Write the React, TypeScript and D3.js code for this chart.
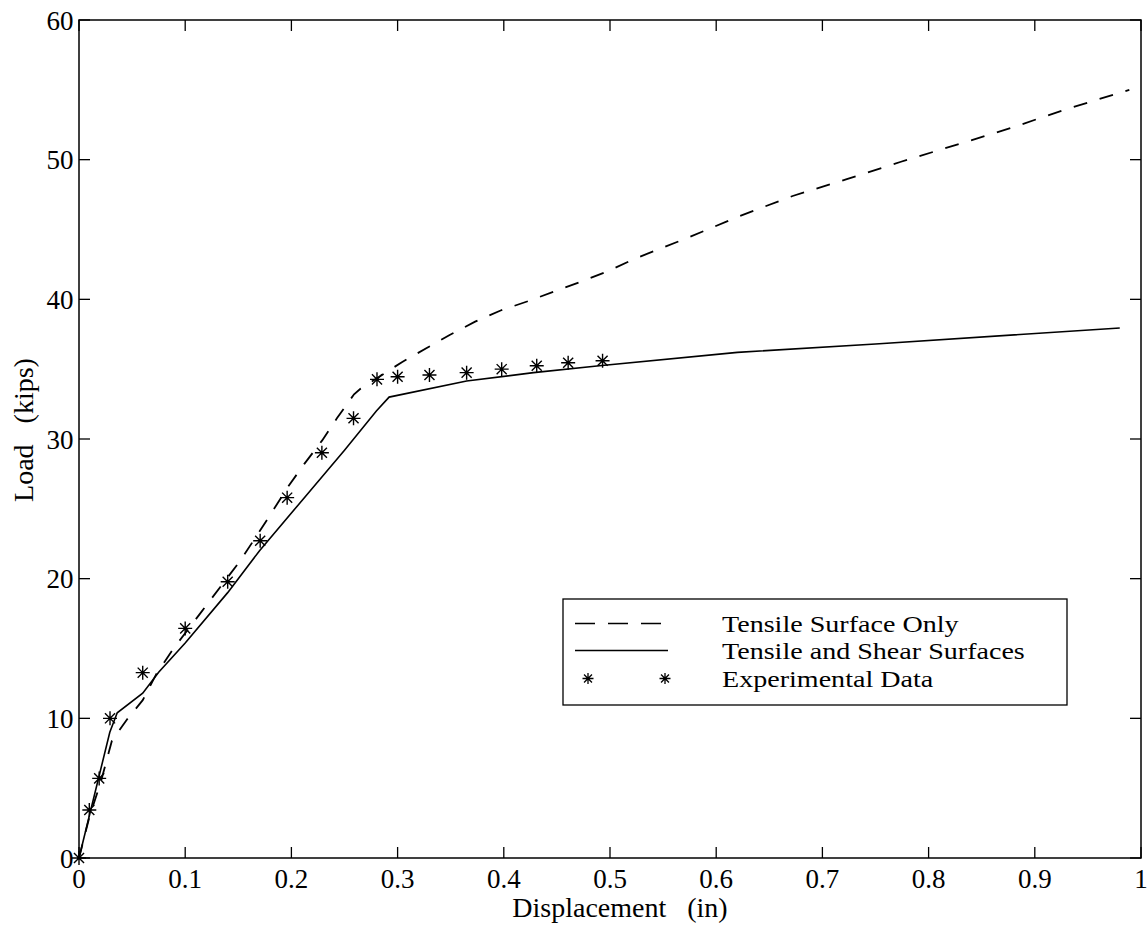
import React from "react";
import * as d3 from "d3";

// ---- Data ----
const tensileDisp = [0, 0.01, 0.02, 0.031, 0.045, 0.06, 0.073, 0.089, 0.114, 0.152, 0.177, 0.197, 0.212, 0.229, 0.243, 0.259, 0.265, 0.304, 0.327, 0.349, 0.373, 0.397, 0.424, 0.449, 0.474, 0.499, 0.523, 0.573, 0.622, 0.672, 0.723, 0.774, 0.826, 0.878, 0.929, 0.989];
const tensileLoad = [0, 3.0, 5.3, 8.4, 9.9, 11.3, 13.2, 15.0, 17.5, 21.3, 24.2, 26.6, 28.2, 29.9, 31.5, 33.2, 33.6, 35.5, 36.5, 37.45, 38.4, 39.2, 39.9, 40.6, 41.3, 42.05, 42.9, 44.4, 45.96, 47.4, 48.6, 49.85, 51.06, 52.28, 53.6, 55.0];

const shearDisp = [0, 0.029, 0.036, 0.06, 0.075, 0.1, 0.14, 0.17, 0.21, 0.25, 0.28, 0.292, 0.365, 0.428, 0.49, 0.62, 0.75, 0.98];
const shearLoad = [0, 9.0, 10.4, 11.8, 13.3, 15.4, 19.0, 22.0, 25.6, 29.2, 32.0, 33.0, 34.15, 34.75, 35.25, 36.2, 36.8, 37.95];

const expDisp = [0, 0.0097, 0.019, 0.0292, 0.06, 0.1, 0.14, 0.1706, 0.196, 0.2287, 0.2585, 0.2806, 0.3, 0.33, 0.365, 0.398, 0.431, 0.4606, 0.493];
const expLoad = [0, 3.44, 5.7, 10.0, 13.27, 16.44, 19.78, 22.72, 25.8, 29.02, 31.48, 34.27, 34.46, 34.58, 34.75, 35.0, 35.25, 35.46, 35.6];

const xTicks = [0, 0.1, 0.2, 0.3, 0.4, 0.5, 0.6, 0.7, 0.8, 0.9, 1];
const xTickLabels = ["0", "0.1", "0.2", "0.3", "0.4", "0.5", "0.6", "0.7", "0.8", "0.9", "1"];
const yTicks = [0, 10, 20, 30, 40, 50, 60];
const yTickLabels = ["0", "10", "20", "30", "40", "50", "60"];

const legendLabels = ["Tensile Surface Only", "Tensile and Shear Surfaces", "Experimental Data"];
const xLabel = "Displacement   (in)";
const yLabel = "Load   (kips)";

// ---- Layout ----
const W = 1147;
const H = 928;
const left = 79;
const right = 1141;
const top = 20;
const bottom = 858;
const font = "'Liberation Serif', 'Times New Roman', serif";

function starPath(cx: number, cy: number, r: number) {
  const d = r * 0.72;
  return `M${cx - r},${cy}L${cx + r},${cy}M${cx},${cy - r}L${cx},${cy + r}` +
    `M${cx - d},${cy - d}L${cx + d},${cy + d}M${cx - d},${cy + d}L${cx + d},${cy - d}`;
}

export default function App() {
  const x = d3.scaleLinear().domain([0, 1]).range([left, right]);
  const y = d3.scaleLinear().domain([0, 60]).range([bottom, top]);

  const line = d3
    .line<[number, number]>()
    .x((d) => x(d[0]))
    .y((d) => y(d[1]));

  const tensile = tensileDisp.map((v, i) => [v, tensileLoad[i]] as [number, number]);
  const shear = shearDisp.map((v, i) => [v, shearLoad[i]] as [number, number]);
  const tick = 11;

  return (
    <svg
      width={W}
      height={H}
      style={{ position: "absolute", left: 0, top: 0, background: "#fff" }}
      fontFamily={font}
    >
      <rect x={0} y={0} width={W} height={H} fill="#fff" />
      {/* frame */}
      <rect x={left} y={top} width={right - left} height={bottom - top} fill="none" stroke="#000" strokeWidth={1.5} />
      {/* x ticks */}
      {xTicks.map((t, i) => (
        <g key={"x" + i}>
          <line x1={x(t)} x2={x(t)} y1={bottom} y2={bottom - tick} stroke="#000" strokeWidth={1.3} />
          <line x1={x(t)} x2={x(t)} y1={top} y2={top + tick} stroke="#000" strokeWidth={1.3} />
          <text x={x(t)} y={bottom + 30} textAnchor="middle" fontSize={27} fill="#000">
            {xTickLabels[i]}
          </text>
        </g>
      ))}
      {/* y ticks */}
      {yTicks.map((t, i) => (
        <g key={"y" + i}>
          <line x1={left} x2={left + tick} y1={y(t)} y2={y(t)} stroke="#000" strokeWidth={1.3} />
          <line x1={right} x2={right - tick} y1={y(t)} y2={y(t)} stroke="#000" strokeWidth={1.3} />
          <text x={73.5} y={y(t) + 9.5} textAnchor="end" fontSize={27} fill="#000">
            {yTickLabels[i]}
          </text>
        </g>
      ))}
      {/* axis labels */}
      <text x={620} y={917} textAnchor="middle" fontSize={28} fill="#000" style={{ whiteSpace: "pre" }}>
        {xLabel}
      </text>
      <text
        transform={`translate(33,430) rotate(-90)`}
        textAnchor="middle"
        fontSize={28}
        fill="#000"
        style={{ whiteSpace: "pre" }}
      >
        {yLabel}
      </text>

      {/* series */}
      <path d={line(tensile) || ""} fill="none" stroke="#000" strokeWidth={1.8} strokeDasharray="14,13" />
      <path d={line(shear) || ""} fill="none" stroke="#000" strokeWidth={1.6} />
      {expDisp.map((v, i) => (
        <path key={"e" + i} d={starPath(x(v), y(expLoad[i]), 7)} stroke="#000" strokeWidth={1.4} fill="none" />
      ))}

      {/* legend */}
      <rect x={563} y={599} width={504} height={106} fill="#fff" stroke="#000" strokeWidth={1.3} />
      <line x1={575} x2={668} y1={623.5} y2={623.5} stroke="#000" strokeWidth={1.6} strokeDasharray="20,13" />
      <line x1={575} x2={668} y1={650.5} y2={650.5} stroke="#000" strokeWidth={1.5} />
      <path d={starPath(588, 678.5, 5.5)} stroke="#000" strokeWidth={1.3} fill="none" />
      <path d={starPath(665, 678.5, 5.5)} stroke="#000" strokeWidth={1.3} fill="none" />
      {legendLabels.map((l, i) => (
        <text
          key={"l" + i}
          transform={`translate(722,${632 + i * 27.4}) scale(1.17,1)`}
          fontSize={24}
          fill="#000"
        >
          {l}
        </text>
      ))}
    </svg>
  );
}
